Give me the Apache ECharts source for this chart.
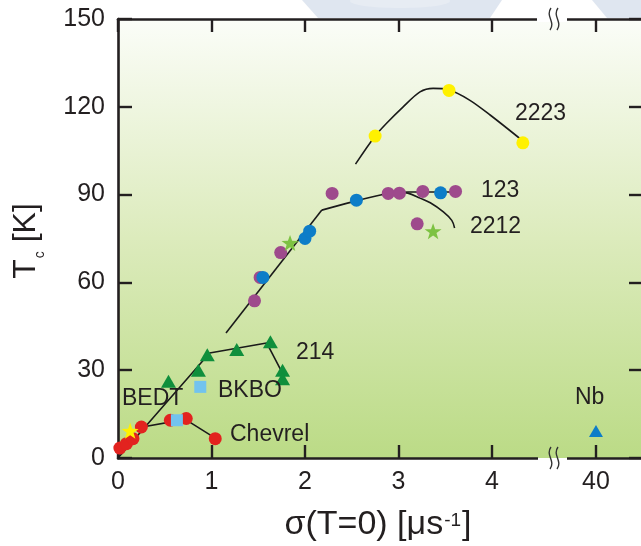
<!DOCTYPE html>
<html><head><meta charset="utf-8">
<script src="https://cdn.jsdelivr.net/npm/echarts@6/dist/echarts.min.js"></script>
<style>html,body{margin:0;padding:0;background:#fff;}#c{width:641px;height:546px;}</style>
</head><body><div id="c"></div>
<script>
// ---------- data ----------
const xTickValues = [0, 1, 2, 3, 4, 40];
const xTickLabels = ['0', '1', '2', '3', '4', '40'];
const yTickValues = [0, 30, 60, 90, 120, 150];

const chevrelPts = [[0.02,3.4],[0.09,4.9],[0.16,6.6],[0.25,10.6],[0.56,12.9],[0.73,13.5],[1.04,6.6]];
const bkboPts = [[0.63,12.9],[0.88,24.3]];
const bedtPts = [[0.13,9.3]];
const la214Pts = [[0.54,26.2],[0.86,30.0],[0.955,35.3],[1.27,37.1],[1.63,39.7],[1.76,30.0],[1.76,27.1]];
const purplePts = [[1.46,53.7],[1.52,61.7],[1.74,70.2],[2.29,90.4],[2.89,90.4],[3.01,90.5],[3.26,91.1],[3.61,91.1],[3.20,80.0]];
const bluePts = [[1.55,61.7],[2.00,75.0],[2.05,77.5],[2.55,88.1],[3.45,90.6]];
const starPts = [[1.84,73.5],[3.37,77.5]];
const yellowPts = [[2.75,110.0],[3.54,125.6],[4.33,107.7]];
const nbPts = [[40,9.2]];

const line214 = [[0,0],[0.98,35.9],[1.59,39.3],[1.76,28.9]];
const lineChevrel = [[0.26,10.6],[0.72,13.2],[1.04,6.8]];
const lineMainStraight = [[1.155,42.7],[2.18,84.7]];
const lineMainCurve = [[2.18,84.7],[2.52,87.6],[2.87,90.3],[3.1,90.9],[3.64,90.9]];
const line2212 = [[2.95,90.9],[3.1,90.5],[3.23,88.8],[3.34,87.2],[3.48,84.1],[3.57,81.2],[3.6,78.6]];
const line2223 = [[2.54,100.4],[2.75,110],[2.87,114.3],[3.05,120],[3.23,125.1],[3.37,126.3],[3.53,125.9],[3.76,122.3],[3.98,117.2],[4.32,108.6]];

// ---------- broken x axis (4.x // 40) ----------
const BREAK_VALUE = 40, BREAK_POS = 5.112;
function brk(v) { return v >= BREAK_VALUE ? BREAK_POS + (v - BREAK_VALUE) * 0.1 : v; }
function mapPts(a) { return a.map(p => [brk(p[0]), p[1]]); }
const xTickPos = xTickValues.map(brk);
function xLabel(v) { const i = xTickPos.findIndex(p => Math.abs(p - v) < 1e-6); return i >= 0 ? xTickLabels[i] : ''; }

// ---------- styles ----------
const font = "'Liberation Sans', Arial, Helvetica, sans-serif";
const ink = '#231f20';
const STAR = 'path://M10 0 L12.351 6.764 L19.511 6.91 L13.804 11.236 L15.878 18.09 L10 14 L4.122 18.09 L6.196 11.236 L0.489 6.91 L7.649 6.764 Z';

function scatter(name, data, symbol, size, color) {
  return { name, type: 'scatter', data: mapPts(data), symbol, symbolSize: size,
    itemStyle: { color, opacity: 1 }, emphasis: { disabled: true }, silent: true, z: 3 };
}
function curve(data, smooth) {
  return { type: 'line', data: mapPts(data), smooth: smooth || false, showSymbol: false, symbol: 'none',
    lineStyle: { color: '#1a1a1a', width: 1.6 }, emphasis: { disabled: true }, silent: true, z: 2 };
}
function label(t, x, y) {
  return { type: 'text', x, y, z: 100, silent: true,
    style: { text: t, fill: ink, fontSize: 23, fontFamily: font, align: 'left', verticalAlign: 'middle' } };
}
function wave(cx, cy) {
  return { type: 'bezierCurve', z: 110, silent: true,
    shape: { x1: cx + 1, y1: cy - 11, cpx1: cx - 5, cpy1: cy - 3, cpx2: cx + 6, cpy2: cy + 3, x2: cx, y2: cy + 11 },
    style: { stroke: '#333', lineWidth: 1.4, fill: null } };
}

const axisLineStyle = { color: ink, width: 2.6 };
function xAxisDef(pos, showLabel) {
  return { type: 'value', position: pos, min: 0, max: 5.615, interval: 1,
    axisLine: { show: true, onZero: false, lineStyle: axisLineStyle },
    axisTick: { show: true, inside: true, length: 13, customValues: xTickPos, lineStyle: { color: ink, width: 2.4 } },
    axisLabel: { show: showLabel, customValues: xTickPos, formatter: xLabel, fontSize: 25, fontFamily: font, color: ink, margin: 12 },
    splitLine: { show: false } };
}
function yAxisDef(pos, showLabel) {
  return { type: 'value', position: pos, min: 0, max: 150, interval: 30,
    axisLine: { show: true, onZero: false, lineStyle: axisLineStyle },
    axisTick: { show: true, inside: true, length: 14, lineStyle: { color: ink, width: 2.4 } },
    axisLabel: { show: showLabel, fontSize: 25, fontFamily: font, color: ink, margin: 13,
      formatter: v => (yTickValues.indexOf(v) >= 0 ? String(v) : '') },
    splitLine: { show: false } };
}

const chart = echarts.init(document.getElementById('c'), null, { renderer: 'canvas' });
chart.setOption({
  animation: false,
  backgroundColor: '#ffffff',
  grid: { left: 118, right: -2, top: 19, bottom: 88, show: true, borderWidth: 0, outerBoundsMode: 'none', containLabel: false,
    backgroundColor: { type: 'linear', x: 0, y: 0, x2: 0, y2: 1,
      colorStops: [{ offset: 0, color: '#fbfdf8' }, { offset: 0.5, color: '#dcebbc' }, { offset: 1, color: '#bbdb86' }] } },
  xAxis: [xAxisDef('bottom', true), xAxisDef('top', false)],
  yAxis: [yAxisDef('left', true), yAxisDef('right', false)],
  series: [
    curve(line214), curve(lineChevrel), curve(lineMainStraight),
    curve(lineMainCurve, 0.35), curve(line2212, 0.35), curve(line2223, 0.3),
    scatter('Chevrel', chevrelPts, 'circle', 13, '#e2231f'),
    scatter('BKBO', bkboPts, 'rect', 12, '#72c3ee'),
    scatter('BEDT', bedtPts, STAR, [17, 16], '#fff100'),
    scatter('214', la214Pts, 'triangle', [15, 13], '#0f8f3c'),
    scatter('123 / 2212 (a)', purplePts, 'circle', 13, '#9e4a8c'),
    scatter('123 / 2212 (b)', bluePts, 'circle', 13, '#0d7dc8'),
    scatter('2212 star', starPts, STAR, [17, 16], '#7dc242'),
    scatter('2223', yellowPts, 'circle', 13, '#fff100'),
    scatter('Nb', nbPts, 'triangle', [14, 12], '#0d7dc8')
  ],
  graphic: [
    // faint logo shape above the frame
    { type: 'polygon', z: -1, silent: true, shape: { points: [[302,0],[502,0],[490,18],[318,18]] }, style: { fill: '#dfe6f0' } },
    { type: 'ellipse', z: -1, silent: true, shape: { cx: 400, cy: 1, rx: 50, ry: 7 }, style: { fill: '#e7ecf3' } },
    { type: 'polygon', z: -1, silent: true, shape: { points: [[592,0],[641,0],[641,18],[607,18]] }, style: { fill: '#dfe6f0' } },
    // axis break gaps
    { type: 'rect', z: 90, silent: true, shape: { x: 538, y: 455.5, width: 29, height: 2.5 }, style: { fill: '#bbdb86' } },
    { type: 'rect', z: 90, silent: true, shape: { x: 538, y: 458, width: 29, height: 3 }, style: { fill: '#ffffff' } },
    { type: 'rect', z: 90, silent: true, shape: { x: 537, y: 16, width: 30, height: 6 }, style: { fill: '#ffffff' } },
    wave(550, 458), wave(557, 458), wave(550, 19), wave(557, 19),
    // series labels
    label('2223', 515, 114), label('123', 481, 191), label('2212', 470, 227),
    label('214', 296, 353), label('BKBO', 218, 391), label('BEDT', 122, 399),
    label('Chevrel', 230, 435), label('Nb', 575, 398),
    // axis titles
    { type: 'text', z: 100, silent: true, x: 378, y: 525,
      style: { text: '{t|σ(T=0) [μs}{s|-1}{t|]}', fill: ink, align: 'center', verticalAlign: 'middle', fontFamily: font,
        rich: { t: { fontSize: 34, lineHeight: 34, fontFamily: font, fill: ink, verticalAlign: 'top' },
                s: { fontSize: 19, lineHeight: 19, fontFamily: font, fill: ink, verticalAlign: 'top', padding: [3, 1, 0, 1] } } } },
    { type: 'text', z: 100, silent: true, x: 26, y: 241, rotation: Math.PI / 2,
      style: { text: '{t|T}{c|c}{t| [K]}', fill: ink, align: 'center', verticalAlign: 'middle', fontFamily: font,
        rich: { t: { fontSize: 32, lineHeight: 32, fontFamily: font, fill: ink, verticalAlign: 'top' },
                c: { fontSize: 14, lineHeight: 14, fontFamily: font, fill: ink, verticalAlign: 'top', padding: [23, 0, 0, 1] } } } }
  ]
});
</script></body></html>
